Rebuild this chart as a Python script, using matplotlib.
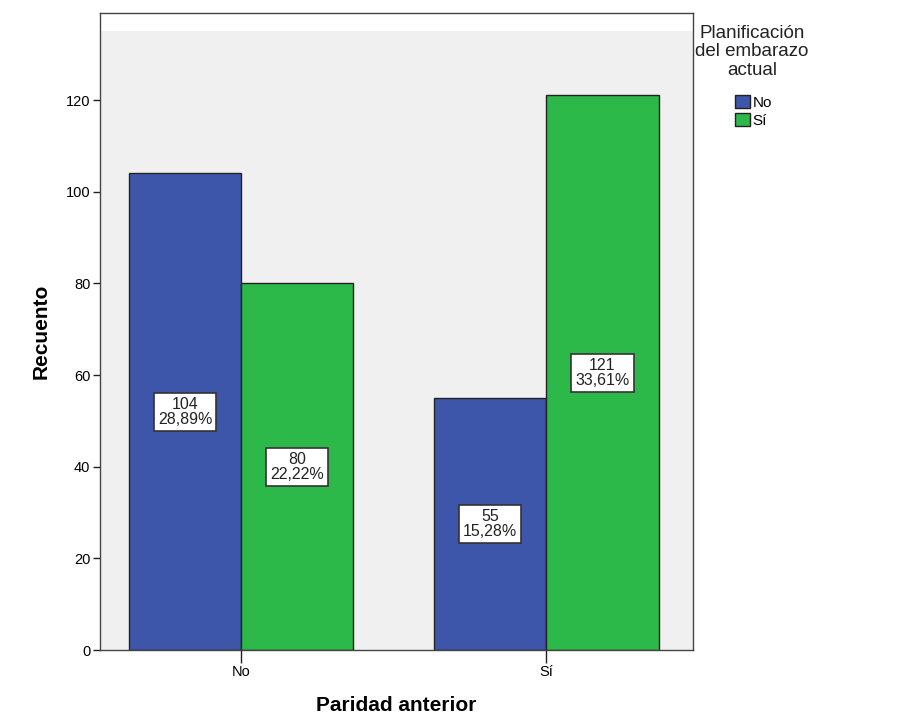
import matplotlib
matplotlib.use("Agg")
import matplotlib.pyplot as plt
import numpy as np
from matplotlib.patches import Rectangle, Patch

plt.rcParams['font.family'] = ['Liberation Sans', 'DejaVu Sans']

categories = ["No", "Sí"]
series_names = ["No", "Sí"]
values_no = [104, 55]
values_si = [80, 121]
pct_no = ["28,89%", "15,28%"]
pct_si = ["22,22%", "33,61%"]
colors = ["#3D56AA", "#2DB84A"]

fig = plt.figure(figsize=(9, 7.28), dpi=100)
ax = fig.add_axes([100/900, 78/728, 593/900, 637/728])

x = np.arange(len(categories))
w = 0.368
ax.set_xlim(-0.463, 1.481)
ax.set_ylim(0, 139)
ax.add_patch(Rectangle((-0.463, 0), 1.944, 135, facecolor="#F0F0F0", edgecolor="none", zorder=0))

b1 = ax.bar(x - w/2, values_no, w, color=colors[0], edgecolor="#222222", linewidth=1, zorder=2)
b2 = ax.bar(x + w/2, values_si, w, color=colors[1], edgecolor="#222222", linewidth=1, zorder=2)

for bars, vals, pcts in [(b1, values_no, pct_no), (b2, values_si, pct_si)]:
    for rect, v, p in zip(bars, vals, pcts):
        ax.text(rect.get_x() + rect.get_width()/2, v/2, f"{v}\n{p}", ha="center", va="center",
                fontsize=11.5, color="#222222", linespacing=1.02, zorder=4,
                bbox=dict(boxstyle="square,pad=0.25", facecolor="white", edgecolor="#333333", linewidth=1.2))

ax.set_xticks(x)
ax.set_xticklabels(categories, fontsize=10.5)
ax.tick_params(axis="x", length=9, width=1, color="#222222", pad=2)
ax.set_yticks(np.arange(0, 121, 20))
ax.tick_params(axis="y", length=5, width=1, color="#222222", labelsize=10.5, pad=2)
for s in ax.spines.values():
    s.set_color("#444444")
    s.set_linewidth(1)

ax.set_xlabel("Paridad anterior", fontsize=15, fontweight="bold", labelpad=12)
ax.set_ylabel("Recuento", fontsize=15, fontweight="bold", labelpad=11)

fig.text(752/900, 1 - 52/728, "Planificación\ndel embarazo\nactual", ha="center", va="center",
         fontsize=13.5, color="#222222", linespacing=1.15)

handles = [Patch(facecolor=colors[0], edgecolor="#222222", label=series_names[0]),
           Patch(facecolor=colors[1], edgecolor="#222222", label=series_names[1])]
leg = fig.legend(handles=handles, loc="upper left", bbox_to_anchor=(724/900, 1 - 84/728), frameon=False,
                 fontsize=11, handlelength=1.0, handleheight=1.0,
                 handletextpad=0.15, labelspacing=0.2, borderpad=0.2)

fig.savefig("out.png", dpi=100, facecolor="white")
